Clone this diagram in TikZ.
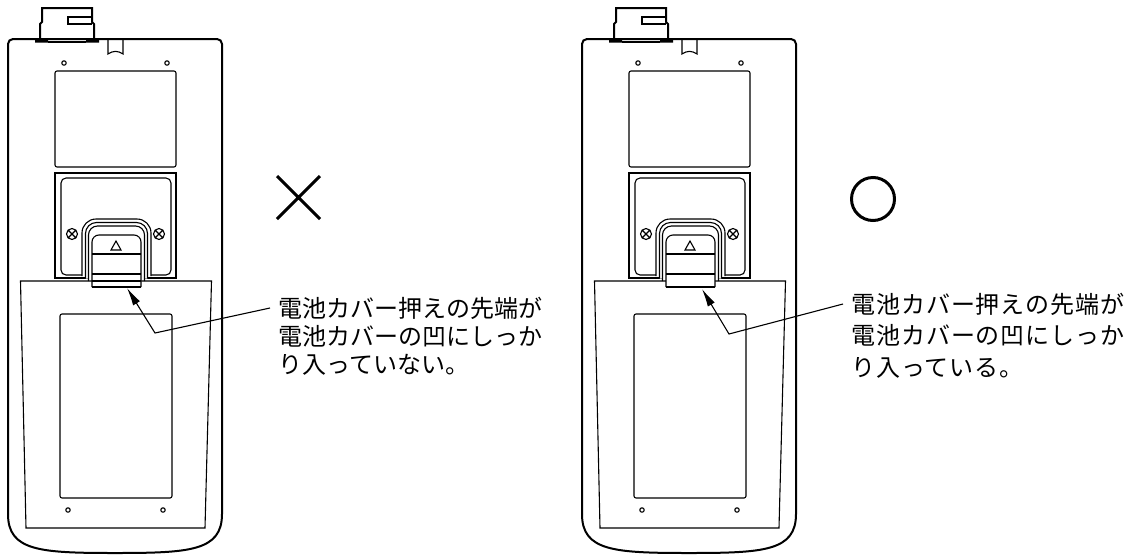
\documentclass[tikz,border=0pt]{standalone}
\usepackage{fontspec}
\usetikzlibrary{arrows.meta,positioning}
\newfontfamily\jpfont{Noto Sans CJK JP}
\newfontfamily\jpwide{Noto Sans CJK JP}[LetterSpace=4]
\newcommand{\remote}{%
  \draw[body,rounded corners=5pt] (8,514) -- (8,39) -- (222,39) -- (222,514);
  \draw[body] (222,514) .. controls (222,551) and (190,553) .. (115,553) .. controls (40,553) and (8,551) .. (8,514);
  \draw[body] (40,39) -- (40,24) -- (42,22) -- (42,8) -- (92,8) -- (92,22) -- (94,24) -- (94,39);
  \draw[part] (92,17) -- (68,17) -- (68,24) -- (92,24);
  \fill (35,38.5) rectangle (48,42.5) (86,38.5) rectangle (99,42.5);
  \draw[part] (48,42) -- (86,42);
  \draw[part] (108,39) -- (108,54) .. controls (113,50.5) and (118,50.5) .. (123,54) -- (123,39);
  \foreach \hx/\hy in {64/63,167/63,68/510,163/510}
    \draw[part] (\hx,\hy) circle[radius=2.2];
  \draw[part,rounded corners=2pt] (55,71) rectangle (176,167);
  \draw[part] (55,173) rectangle (176,278);
  \draw[part,rounded corners=5pt] (61,178) rectangle (171,275);
  \foreach \sx in {72,159}
    \draw[part] (\sx,234) circle[radius=5.5] +(-3.4,-3.4) -- +(3.4,3.4) +(-3.4,3.4) -- +(3.4,-3.4);
  \filldraw[part,fill=white,rounded corners=14pt] (82,276) -- (82,219) -- (151,219) -- (151,276);
  \filldraw[part,fill=white,rounded corners=11pt] (85.5,278.5) -- (85.5,222.5) -- (147.5,222.5) -- (147.5,278.5);
  \filldraw[part,fill=white,rounded corners=9pt] (88.5,281) -- (88.5,226) -- (144.5,226) -- (144.5,281);
  \draw[part] (20.5,281) -- (211.5,281) -- (205,528) -- (26,528) -- cycle;
  \draw[part,rounded corners=2pt] (60,314) rectangle (172,498);
  \filldraw[part,fill=white,rounded corners=7pt] (92,287) -- (92,235) -- (141,235) -- (141,287);
  \draw[part] (92,287) -- (141,287) (92,254) -- (141,254) (92,274) -- (141,274);
  \draw[part] (111,250) -- (116,241) -- (121,250) -- cycle;
}

\begin{document}
\begin{tikzpicture}[x=1pt,y=-1pt,
    body/.style={line width=2pt},
    part/.style={line width=1.1pt},
    verdict/.style={line width=3pt},
    lbl/.style={font=\jpfont\fontsize{24pt}{28pt}\selectfont,inner xsep=8pt,inner ysep=0pt,text height=21pt,text depth=3pt},
    lblwide/.style={lbl,font=\jpwide\fontsize{24pt}{28pt}\selectfont},
    leader/.style={line width=1.1pt,-{Latex[length=18pt,width=8pt]}}]
  \useasboundingbox (0,0) rectangle (1141,555);

  \remote
  \draw[part] (92,281) -- (141,281);
  \begin{scope}[xshift=574pt]
    \remote
  \end{scope}

  \draw[verdict] (277,176) -- (320,219) (277,219) -- (320,176);
  \draw[verdict] (873,199) circle[radius=21.5];

  \node[lbl,anchor=west] (lno1) at (270,308) {電池カバー押えの先端が};
  \node[lbl,below=4pt of lno1.south west,anchor=north west] (lno2) {電池カバーの凹にしっか};
  \node[lbl,below=4pt of lno2.south west,anchor=north west] (lno3) {り入っていない。};
  \coordinate (bendno) at (155,333);
  \coordinate (tipno) at (127,288);
  \draw[leader] (lno1.west) -- (bendno) -- (tipno);

  \node[lblwide,anchor=west] (lok1) at (843,304) {電池カバー押えの先端が};
  \node[lblwide,below=7.5pt of lok1.south west,anchor=north west] (lok2) {電池カバーの凹にしっか};
  \node[lblwide,below=7.5pt of lok2.south west,anchor=north west] (lok3) {り入っている。};
  \coordinate (bendok) at (729,334);
  \coordinate (tipok) at (702,289);
  \draw[leader] (lok1.west) -- (bendok) -- (tipok);
\end{tikzpicture}
\end{document}
